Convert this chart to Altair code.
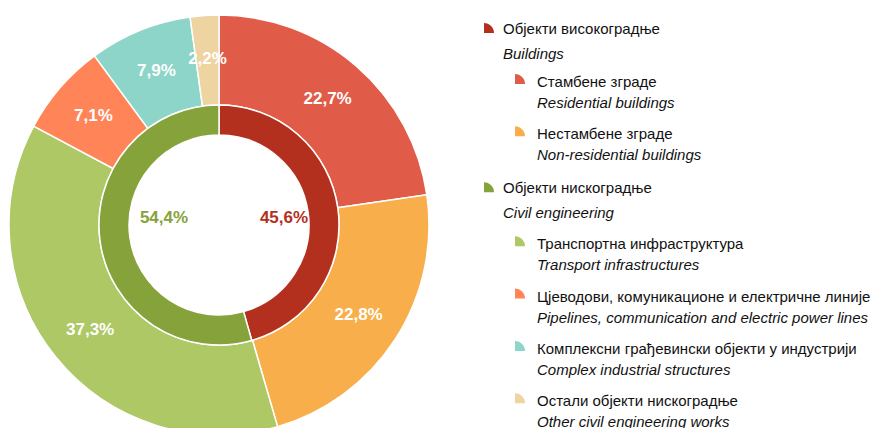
import altair as alt
import pandas as pd

# ---- data ----
group_sr = ["Објекти високоградње", "Објекти нискоградње"]
group_en = ["Buildings", "Civil engineering"]
group_values = [45.6, 54.4]
group_colors = ["#B4301E", "#86A23A"]

sub_sr = [
    "Стамбене зграде",
    "Нестамбене зграде",
    "Транспортна инфраструктура",
    "Цјеводови, комуникационе и електричне линије",
    "Комплексни грађевински објекти у индустрији",
    "Остали објекти нискоградње",
]
sub_en = [
    "Residential buildings",
    "Non-residential buildings",
    "Transport infrastructures",
    "Pipelines, communication and electric power lines",
    "Complex industrial structures",
    "Other civil engineering works",
]
sub_values = [22.7, 22.8, 37.3, 7.1, 7.9, 2.2]
sub_group = [0, 0, 1, 1, 1, 1]
sub_colors = ["#E15C48", "#F8AE4A", "#ADC865", "#FF8458", "#8CD5C8", "#EED4A0"]

def pct(v):
    return f"{v:.1f}%".replace(".", ",")

outer_df = pd.DataFrame({
    "name": sub_sr, "value": sub_values, "color": sub_colors,
    "order": list(range(len(sub_values))),
    "label": [pct(v) for v in sub_values],
})
inner_df = pd.DataFrame({
    "name": group_sr, "value": group_values, "color": group_colors,
    "order": list(range(len(group_values))),
    "label": [pct(v) for v in group_values],
})

# ---- layout constants ----
W, H = 881, 428
CX, CY = 219, 225
FONT = "Liberation Sans, Arial"

theta = alt.Theta("value:Q", stack=True, scale=alt.Scale(range=[0, 6.283185307]))
order = alt.Order("order:Q")
cx, cy = alt.value(CX), alt.value(CY)

outer_arc = alt.Chart(outer_df).mark_arc(
    innerRadius=120, outerRadius=210, stroke="white", strokeWidth=1.5
).encode(theta=theta, order=order, color=alt.Color("color:N", scale=None), x=cx, y=cy)

outer_text = alt.Chart(outer_df).mark_text(
    radius=166, font=FONT, fontSize=17, fontWeight="bold", color="white"
).encode(theta=theta, order=order, text="label:N", x=cx, y=cy)

inner_arc = alt.Chart(inner_df).mark_arc(
    innerRadius=90, outerRadius=120, stroke="white", strokeWidth=1.5
).encode(theta=theta, order=order, color=alt.Color("color:N", scale=None), x=cx, y=cy)

inner_text = alt.Chart(inner_df).mark_text(
    font=FONT, fontSize=17, fontWeight="bold", baseline="middle"
).encode(
    x=alt.X("name:N", scale=alt.Scale(type="point", domain=group_sr,
                                      range=[CX + 65, CX - 55], padding=0), axis=None),
    y=alt.value(CY - 7),
    text="label:N",
    color=alt.Color("color:N", scale=None),
)

# ---- legend layout ----
rows_sr, rows_en, syms = [], [], []
y = 29
for g in range(len(group_sr)):
    rows_sr.append({"t": group_sr[g], "px": 503, "py": y})
    rows_en.append({"t": group_en[g], "px": 503, "py": y + 25})
    syms.append({"px": 489, "py": y - 1, "c": group_colors[g]})
    ys = y + (53 if g == 0 else 56)
    last = ys
    for i, sg in enumerate(sub_group):
        if sg != g:
            continue
        rows_sr.append({"t": sub_sr[i], "px": 537, "py": ys})
        rows_en.append({"t": sub_en[i], "px": 537, "py": ys + 21})
        syms.append({"px": 520, "py": ys - 3, "c": sub_colors[i]})
        last = ys
        ys += 52.3
    y = last + 54

xs = alt.X("px:Q", scale=None, axis=None)
ysc = alt.Y("py:Q", scale=None, axis=None)

leg_sr = alt.Chart(pd.DataFrame(rows_sr)).mark_text(
    align="left", baseline="middle", font=FONT, fontSize=15, color="#111111"
).encode(x=xs, y=ysc, text="t:N")
leg_en = alt.Chart(pd.DataFrame(rows_en)).mark_text(
    align="left", baseline="middle", font=FONT, fontSize=15, fontStyle="italic", color="#111111"
).encode(x=xs, y=ysc, text="t:N")
wedge = "M-1,1 L-1,-1 A2,2 0 0,1 1,1 Z"
leg_sym = alt.Chart(pd.DataFrame(syms)).mark_point(
    shape=wedge, filled=True, size=100, opacity=1, strokeWidth=0
).encode(x=xs, y=ysc, color=alt.Color("c:N", scale=None))

chart = alt.layer(outer_arc, inner_arc, outer_text, inner_text, leg_sym, leg_sr, leg_en).properties(
    width=W, height=H, autosize=alt.AutoSizeParams(type="none"), padding=0
).configure_view(stroke=None)

chart.save("out.html", embed_options={"renderer": "svg", "actions": False})
